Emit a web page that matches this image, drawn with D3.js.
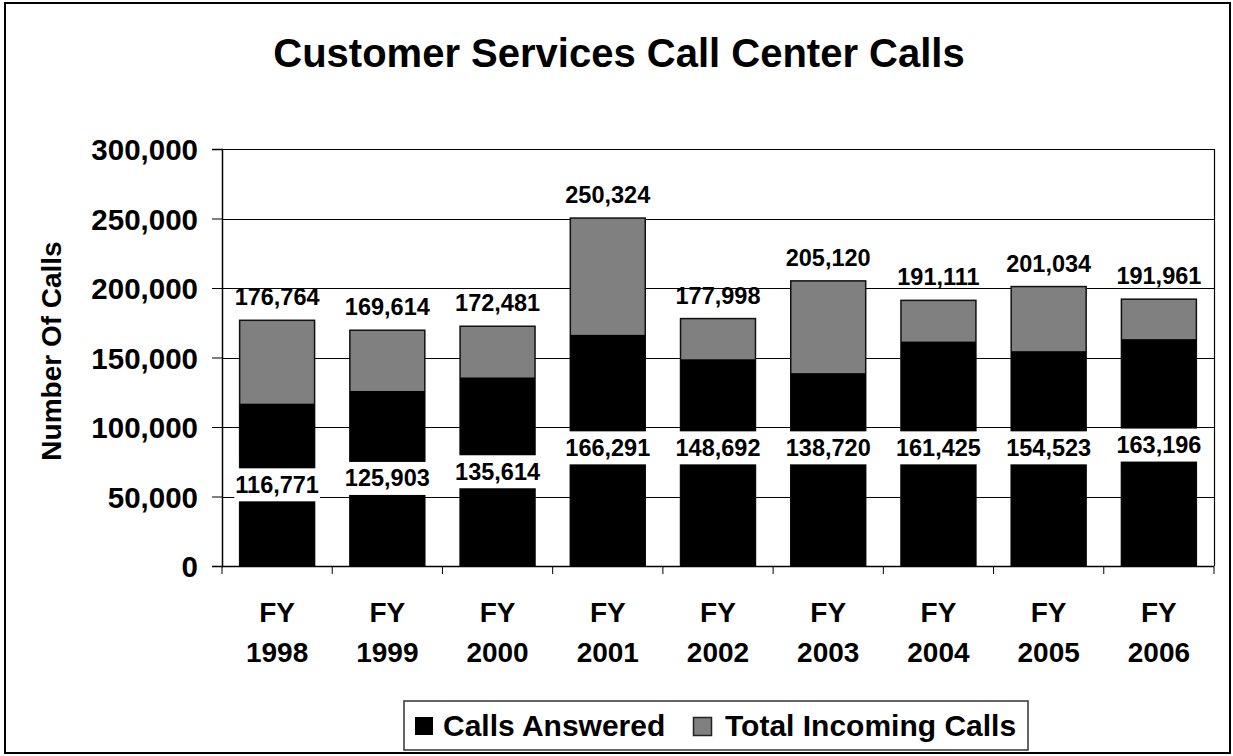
<!DOCTYPE html>
<html><head><meta charset="utf-8">
<script src="https://cdn.jsdelivr.net/npm/d3@7"></script>
<style>
html,body{margin:0;padding:0;background:#fff;}
svg text{font-family:"Liberation Sans",Arial,Helvetica,sans-serif;font-weight:bold;fill:#000;}
</style></head>
<body>
<svg id="chart" width="1233" height="756"></svg>
<script>
const categories = ["FY 1998","FY 1999","FY 2000","FY 2001","FY 2002","FY 2003","FY 2004","FY 2005","FY 2006"];
const callsAnswered = [116771,125903,135614,166291,148692,138720,161425,154523,163196];
const totalIncoming = [176764,169614,172481,250324,177998,205120,191111,201034,191961];
// value (in calls) at which each "Calls Answered" label sits inside its bar
const answeredLabelAt = [58400,63000,67800,85000,85000,85000,85000,85000,87000];
const yTicks = [0,50000,100000,150000,200000,250000,300000];
const seriesNames = ["Calls Answered","Total Incoming Calls"];
const seriesColors = ["#000000","#808080"];

const svg = d3.select("#chart");
const plot = {left:222, right:1214, top:149, bottom:566};

// outer border
svg.append("rect").attr("x",5).attr("y",3).attr("width",1225).attr("height",750)
  .attr("fill","#fff").attr("stroke","#000").attr("stroke-width",2);

// title
svg.append("text").attr("x",619).attr("y",67).attr("text-anchor","middle")
  .style("font-size","40px").text("Customer Services Call Center Calls");

const x = d3.scaleBand().domain(categories).range([plot.left, plot.right])
  .paddingInner(0.32).paddingOuter(0.16);
const y = d3.scaleLinear().domain([0,300000]).range([plot.bottom, plot.top]);
const fmt = d3.format(",");

// gridlines
svg.append("g").selectAll("line").data(yTicks.filter(d=>d>0)).join("line")
  .attr("x1",plot.left).attr("x2",plot.right)
  .attr("y1",d=>Math.round(y(d))+0.5).attr("y2",d=>Math.round(y(d))+0.5)
  .attr("stroke","#000").attr("stroke-width",1);
// plot right border
svg.append("line").attr("x1",plot.right+0.5).attr("x2",plot.right+0.5)
  .attr("y1",plot.top).attr("y2",plot.bottom).attr("stroke","#000").attr("stroke-width",1.2);

// y axis
const yAxis = d3.axisLeft(y).tickValues(yTicks).tickFormat(fmt).tickSize(10).tickPadding(14);
const gy = svg.append("g").attr("transform",`translate(${plot.left},0)`).call(yAxis);
gy.select(".domain").attr("stroke","#000").attr("stroke-width",1.5);
gy.selectAll(".tick line").attr("stroke","#000");
gy.selectAll(".tick text").style("font-size","29.5px").attr("dy","0.36em")
  .style("font-family","'Liberation Sans',Arial,sans-serif").style("font-weight","bold");

// y title
svg.append("text").attr("transform","translate(61,351) rotate(-90)")
  .attr("text-anchor","middle").style("font-size","28px").text("Number Of Calls");

// bars: total (gray) behind, answered (black) front
const gBars = svg.append("g");
gBars.selectAll("rect.total").data(categories).join("rect").attr("class","total")
  .attr("x",d=>x(d)).attr("width",x.bandwidth())
  .attr("y",(d,i)=>y(totalIncoming[i])).attr("height",(d,i)=>y(0)-y(totalIncoming[i]))
  .attr("fill",seriesColors[1]).attr("stroke","#111").attr("stroke-width",1.5);
gBars.selectAll("rect.ans").data(categories).join("rect").attr("class","ans")
  .attr("x",d=>x(d)).attr("width",x.bandwidth())
  .attr("y",(d,i)=>y(callsAnswered[i])).attr("height",(d,i)=>y(0)-y(callsAnswered[i]))
  .attr("fill",seriesColors[0]);

// x axis
const xAxisLine = svg.append("g");
xAxisLine.append("line").attr("x1",plot.left).attr("x2",plot.right)
  .attr("y1",plot.bottom+0.5).attr("y2",plot.bottom+0.5).attr("stroke","#000").attr("stroke-width",1.5);
const step = x.step();
xAxisLine.selectAll("line.tk").data(d3.range(categories.length+1)).join("line").attr("class","tk")
  .attr("x1",i=>plot.left + i*step).attr("x2",i=>plot.left + i*step)
  .attr("y1",plot.bottom).attr("y2",plot.bottom+8).attr("stroke","#000").attr("stroke-width",1);
const xl = svg.append("g").selectAll("text").data(categories).join("text")
  .attr("x",d=>x(d)+x.bandwidth()/2).attr("text-anchor","middle").style("font-size","28px");
xl.append("tspan").attr("x",d=>x(d)+x.bandwidth()/2).attr("y",622).text(d=>d.split(" ")[0]);
xl.append("tspan").attr("x",d=>x(d)+x.bandwidth()/2).attr("y",662).text(d=>d.split(" ")[1]);

// total labels
svg.append("g").selectAll("text").data(categories).join("text")
  .attr("x",d=>x(d)+x.bandwidth()/2).attr("y",(d,i)=>y(totalIncoming[i])-15)
  .attr("text-anchor","middle").style("font-size","23.5px").text((d,i)=>fmt(totalIncoming[i]));

// answered labels with white boxes
const al = svg.append("g").selectAll("g").data(categories).join("g")
  .attr("transform",(d,i)=>`translate(${x(d)+x.bandwidth()/2},${y(answeredLabelAt[i])})`);
al.append("rect").attr("fill","#fff");
al.append("text").attr("text-anchor","middle").attr("y",8).style("font-size","23.5px")
  .text((d,i)=>fmt(callsAnswered[i]));
al.each(function(){
  const g = d3.select(this);
  const bb = g.select("text").node().getBBox();
  g.select("rect").attr("x",bb.x-1).attr("width",bb.width+2).attr("y",-16.5).attr("height",33);
});

// legend
const lg = svg.append("g");
lg.append("rect").attr("x",404).attr("y",701).attr("width",624).attr("height",49)
  .attr("fill","#fff").attr("stroke","#333").attr("stroke-width",1.5);
lg.append("rect").attr("x",415).attr("y",717).attr("width",18).attr("height",18).attr("fill",seriesColors[0]);
lg.append("text").attr("x",443).attr("y",736).style("font-size","30px").text(seriesNames[0]);
lg.append("rect").attr("x",693.5).attr("y",717.5).attr("width",18).attr("height",18)
  .attr("fill",seriesColors[1]).attr("stroke","#222").attr("stroke-width",1.5);
lg.append("text").attr("x",725).attr("y",736).style("font-size","30px").text(seriesNames[1]);
</script>
</body></html>
